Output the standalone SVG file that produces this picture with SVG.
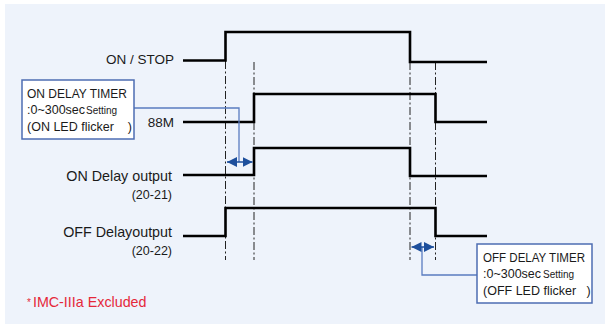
<svg xmlns="http://www.w3.org/2000/svg" width="605" height="324" viewBox="0 0 605 324">
<defs>
<style>
.bg{fill:#eef3fb}
.sig{fill:none;stroke:#000;stroke-width:2.6;stroke-linejoin:miter}
.dd{fill:none;stroke:#222;stroke-width:1;stroke-dasharray:8 2.5 2 2.5}
.lbl{font-family:"Liberation Sans",Arial,sans-serif;fill:#1a1a1a;text-anchor:end}
.box{fill:#fff;stroke:#4d6db3;stroke-width:1.5}
.bt{font-family:"Liberation Sans",Arial,sans-serif;fill:#1a1a1a;font-size:12.5px}
.lead{fill:none;stroke:#5a7cc0;stroke-width:1.3}
.dim{fill:none;stroke:#1d4f9c;stroke-width:1.5}
</style>
<marker id="ah" viewBox="0 0 10 10" refX="10" refY="5" markerWidth="10" markerHeight="10" markerUnits="userSpaceOnUse" orient="auto-start-reverse">
<path d="M0,0 L10,5 L0,10 Z" fill="#1d4f9c"/>
</marker>
</defs>
<rect class="bg" x="5" y="4" width="600" height="320"/>

<g id="guides">
<line class="dd" x1="225.5" y1="61" x2="225.5" y2="260"/>
<line class="dd" x1="254" y1="62" x2="254" y2="260"/>
<line class="dd" x1="410" y1="62" x2="410" y2="260"/>
<line class="dd" x1="435.5" y1="62" x2="435.5" y2="260"/>
</g>

<g id="sig-onstop">
<text class="lbl" x="174" y="64" font-size="13.5">ON / STOP</text>
<polyline class="sig" points="183,60.5 225.5,60.5 225.5,32 410,32 410,62 487,62"/>
</g>
<g id="sig-88m">
<text class="lbl" x="174" y="127" font-size="13.5">88M</text>
<polyline class="sig" points="183,122 254,122 254,94 435.5,94 435.5,122 487,122"/>
</g>
<g id="sig-ondelay">
<text class="lbl" x="172" y="181" font-size="14.3">ON Delay output</text>
<text class="lbl" x="172" y="199" font-size="12.5">(20-21)</text>
<polyline class="sig" points="183,175 254,175 254,148 410,148 410,176 487,176"/>
</g>
<g id="sig-offdelay">
<text class="lbl" x="172" y="237" font-size="14.3">OFF Delayoutput</text>
<text class="lbl" x="172" y="255" font-size="12.5">(20-22)</text>
<polyline class="sig" points="183,236 225.5,236 225.5,208 435.5,208 435.5,236 487,236"/>
</g>

<g id="connectors">
<polyline class="lead" points="134,108 239,108 239,162"/>
<line class="dim" x1="239" y1="162" x2="227" y2="162" marker-end="url(#ah)"/>
<line class="dim" x1="239" y1="162" x2="252.5" y2="162" marker-end="url(#ah)"/>
<polyline class="lead" points="477,275 422,275 422,247"/>
<line class="dim" x1="422" y1="247" x2="411.5" y2="247" marker-end="url(#ah)"/>
<line class="dim" x1="422" y1="247" x2="434" y2="247" marker-end="url(#ah)"/>
</g>

<g id="on-delay-timer">
<rect class="box" x="22" y="80" width="112" height="59"/>
<text class="bt" x="27" y="98" font-size="13" textLength="100" lengthAdjust="spacingAndGlyphs">ON DELAY TIMER</text>
<text class="bt" x="27" y="114">:0~300sec<tspan font-size="10" dx="1">Setting</tspan></text>
<text class="bt" x="27" y="131">(ON LED flicker&#160;&#160;&#160;&#160;)</text>
</g>

<g id="off-delay-timer">
<rect class="box" x="477" y="244" width="115" height="59"/>
<text class="bt" x="483" y="262" font-size="13" textLength="102" lengthAdjust="spacingAndGlyphs">OFF DELAY TIMER</text>
<text class="bt" x="483" y="278">:0~300sec<tspan font-size="10" dx="2">Setting</tspan></text>
<text class="bt" x="483" y="295">(OFF LED flicker&#160;&#160;&#160;)</text>
</g>

<g id="note">
<text x="27" y="307" font-family="'Liberation Sans',Arial,sans-serif" font-size="14.3" fill="#e5283a"><tspan font-size="10" dy="-1">*</tspan><tspan dy="1" dx="2">IMC-IIIa Excluded</tspan></text>
</g>
</svg>
